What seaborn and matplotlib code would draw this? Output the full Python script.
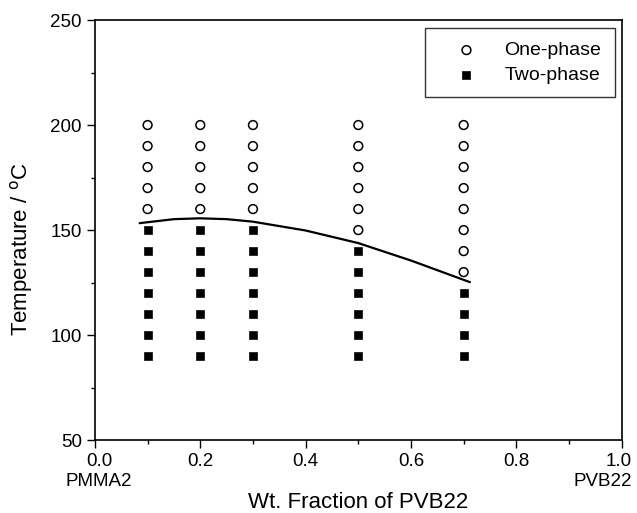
import matplotlib
matplotlib.use("Agg")
import matplotlib.pyplot as plt
from matplotlib.ticker import MultipleLocator
import matplotlib.transforms as mtransforms
import seaborn as sns
import pandas as pd

# one-phase points (open circles)
one_x = [0.1]*5 + [0.2]*5 + [0.3]*5 + [0.5]*6 + [0.7]*8
one_t = ([160, 170, 180, 190, 200]*3 + [150, 160, 170, 180, 190, 200]
         + [130, 140, 150, 160, 170, 180, 190, 200])

# two-phase points (filled squares)
two_x = [0.1]*7 + [0.2]*7 + [0.3]*7 + [0.5]*6 + [0.7]*4
two_t = ([90, 100, 110, 120, 130, 140, 150]*3 + [90, 100, 110, 120, 130, 140]
         + [90, 100, 110, 120])

# phase boundary curve
curve_x = [0.085, 0.15, 0.2, 0.25, 0.3, 0.4, 0.5, 0.6, 0.712]
curve_t = [153.3, 155.2, 155.6, 155.2, 154.0, 149.8, 143.8, 135.5, 125.2]

sns.set_style("ticks", {"axes.edgecolor": "black", "text.color": "black",
                        "axes.labelcolor": "black", "xtick.color": "black",
                        "ytick.color": "black"})
plt.rcParams["font.family"] = ["Liberation Sans", "DejaVu Sans"]

one = pd.DataFrame({"x": one_x, "t": one_t})
two = pd.DataFrame({"x": two_x, "t": two_t})
curve = pd.DataFrame({"x": curve_x, "t": curve_t})

fig = plt.figure(figsize=(6.37, 5.13), dpi=100)
ax = fig.add_axes([0.149, 0.142, 0.827, 0.819])

sns.scatterplot(data=one, x="x", y="t", marker="o", s=40, facecolors="none",
                edgecolor="black", linewidth=1.1, label="One-phase", ax=ax)
sns.scatterplot(data=two, x="x", y="t", marker="s", s=34, color="black",
                edgecolor="black", label="Two-phase", ax=ax)
sns.lineplot(data=curve, x="x", y="t", color="black", linewidth=1.6, ax=ax)

ax.set_xlim(0, 1.0)
ax.set_ylim(50, 250)
ax.set_xticks([0, 0.2, 0.4, 0.6, 0.8, 1.0])
ax.set_xticklabels(["0.0\nPMMA2", "0.2", "0.4", "0.6", "0.8", "1.0\nPVB22"])
ax.set_yticks([50, 100, 150, 200, 250])
ax.xaxis.set_minor_locator(MultipleLocator(0.1))
ax.yaxis.set_minor_locator(MultipleLocator(25))
ax.tick_params(axis="both", which="major", labelsize=13.5, direction="out", length=6, width=1)
ax.tick_params(axis="both", which="minor", direction="out", length=3, width=1)
for s in ax.spines.values():
    s.set_linewidth(1.2)

# end labels: shift so they sit like the original
xt = ax.get_xticklabels()
xt[0].set_transform(xt[0].get_transform() + mtransforms.ScaledTranslation(4/100, 0, fig.dpi_scale_trans))
xt[-1].set_horizontalalignment("right")
xt[-1].set_multialignment("right")
xt[-1].set_transform(xt[-1].get_transform() + mtransforms.ScaledTranslation(10/100, 0, fig.dpi_scale_trans))

ax.set_xlabel("Wt. Fraction of PVB22", fontsize=16, va="center")
ax.xaxis.set_label_coords(0.5, -0.148)
ax.set_ylabel("Temperature / $^{\\mathrm{o}}$C", fontsize=16, va="center")
ax.yaxis.set_label_coords(-0.139, 0.455)

leg = ax.legend(loc="upper right", bbox_to_anchor=(0.987, 0.981), borderaxespad=0,
                fontsize=14, frameon=True, fancybox=False, edgecolor="black",
                borderpad=0.7, handlelength=2.9, handletextpad=0.5, labelspacing=0.35)
leg.get_frame().set_linewidth(1.0)

fig.savefig("out.png", dpi=100)
